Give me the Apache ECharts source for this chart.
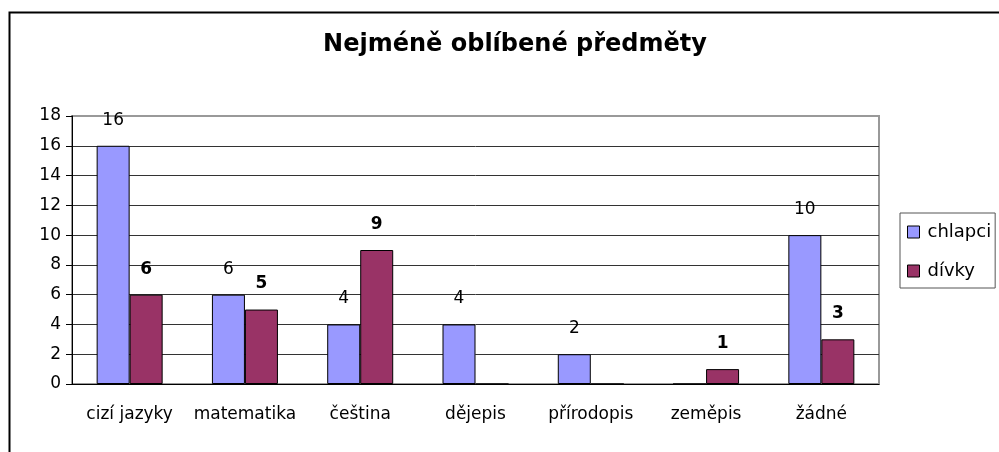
<!DOCTYPE html>
<html>
<head>
<meta charset="utf-8">
<script src="https://cdn.jsdelivr.net/npm/echarts@6/dist/echarts.min.js"></script>
<style>
  html, body { margin: 0; padding: 0; background: #fff; }
  #chart { width: 999px; height: 452px; }
</style>
</head>
<body>
<div id="chart"></div>
<script>
  // data
  const categories = ['cizí jazyky', 'matematika', 'čeština', 'dějepis', 'přírodopis', 'zeměpis', 'žádné']
  const chlapci = [16, 6, 4, 4, 2, 0, 10]
  const divky = [6, 5, 9, 0, 0, 1, 3]
  const seriesNames = ['chlapci', 'dívky']

  const font = 'DejaVu Sans'
  const hideZero = p => (p.value === 0 ? '' : String(p.value))

  const chart = echarts.init(document.getElementById('chart'))
  chart.setOption({
    animation: false,
    backgroundColor: '#fff',
    title: {
      text: 'Nejméně oblíbené předměty',
      left: 510,
      textAlign: 'center',
      top: 28,
      textStyle: { fontFamily: font, fontSize: 24, fontWeight: 'bold', color: '#000' }
    },
    graphic: [{
      type: 'rect',
      left: 7,
      top: 10,
      shape: { width: 1100, height: 500 },
      style: { fill: 'none', stroke: '#000', lineWidth: 2 },
      z: 100
    }],
    legend: {
      orient: 'vertical',
      left: 900,
      top: 213,
      data: seriesNames,
      icon: 'rect',
      itemWidth: 12,
      itemHeight: 12,
      itemGap: 21,
      padding: [10, 4, 8, 7],
      borderColor: '#555',
      borderWidth: 1,
      itemStyle: { borderColor: '#000', borderWidth: 1 },
      textStyle: { fontFamily: font, fontSize: 18, color: '#000', padding: [0, 0, 0, 3] }
    },
    grid: {
      left: 72,
      right: 120,
      top: 116,
      bottom: 68,
      show: true,
      borderColor: '#999',
      borderWidth: 2
    },
    xAxis: {
      type: 'category',
      data: categories,
      axisLine: { lineStyle: { color: '#000', width: 1 } },
      axisTick: { length: 6, lineStyle: { color: '#000' } },
      axisLabel: { fontFamily: font, fontSize: 17, color: '#000', margin: 22, interval: 0 }
    },
    yAxis: {
      type: 'value',
      min: 0,
      max: 18,
      interval: 2,
      axisLine: { show: true, lineStyle: { color: '#000', width: 1 } },
      axisTick: { show: true, length: 6, lineStyle: { color: '#000' } },
      axisLabel: { fontFamily: font, fontSize: 17, color: '#000', margin: 11 },
      splitLine: { showMaxLine: false, lineStyle: { color: '#333', width: 1 } }
    },
    series: [{
      name: seriesNames[0],
      type: 'bar',
      data: chlapci,
      barWidth: 33,
      barGap: '0%',
      itemStyle: { color: '#9999FF', borderColor: '#000', borderWidth: 1 },
      label: {
        show: true,
        position: 'top',
        distance: 17,
        formatter: hideZero,
        fontFamily: font,
        fontSize: 17,
        color: '#000'
      }
    }, {
      name: seriesNames[1],
      type: 'bar',
      data: divky,
      barWidth: 33,
      barGap: '0%',
      itemStyle: { color: '#993366', borderColor: '#000', borderWidth: 1 },
      label: {
        show: true,
        position: 'top',
        distance: 17,
        formatter: hideZero,
        fontFamily: font,
        fontSize: 17,
        fontWeight: 'bold',
        color: '#000'
      }
    }]
  })
</script>
</body>
</html>
